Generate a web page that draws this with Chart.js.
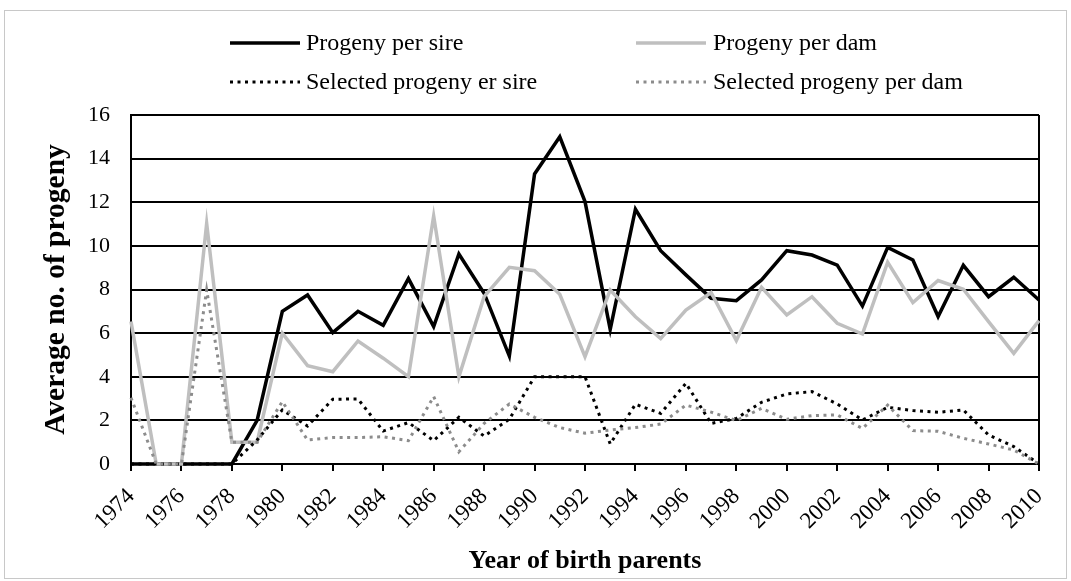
<!DOCTYPE html>
<html>
<head>
<meta charset="utf-8">
<script src="https://cdn.jsdelivr.net/npm/chart.js@4.4.1/dist/chart.umd.min.js"></script>
<style>
  html, body { margin: 0; padding: 0; background: #ffffff; }
  #wrap { width: 1071px; height: 581px; position: relative; }
</style>
</head>
<body>
<div id="wrap"><canvas id="c" width="1071" height="581"></canvas></div>
<script>
const years = [1974,1975,1976,1977,1978,1979,1980,1981,1982,1983,1984,1985,1986,1987,1988,1989,1990,1991,1992,1993,1994,1995,1996,1997,1998,1999,2000,2001,2002,2003,2004,2005,2006,2007,2008,2009,2010];
const progenyPerSire = [0,0,0,0,0,2.0,7.0,7.75,6.02,7.0,6.36,8.5,6.3,9.63,7.83,4.95,13.3,15.0,12.03,6.17,11.68,9.78,8.67,7.6,7.49,8.44,9.78,9.58,9.12,7.24,9.93,9.35,6.76,9.11,7.67,8.56,7.52];
const progenyPerDam = [6.53,0,0,11.03,1.0,1.0,6.0,4.51,4.23,5.64,4.85,4.0,11.37,4.0,7.67,9.02,8.86,7.78,4.92,7.98,6.75,5.75,7.06,7.86,5.66,8.1,6.83,7.67,6.45,5.96,9.25,7.4,8.41,8.01,6.53,5.07,6.57];
const selectedPerSire = [0,0,0,0,0,1.1,2.48,1.74,2.97,2.98,1.51,1.9,1.07,2.14,1.28,2.05,4.0,4.0,4.0,0.92,2.74,2.32,3.7,1.86,2.09,2.83,3.21,3.32,2.75,2.02,2.6,2.45,2.37,2.48,1.33,0.8,0];
const selectedPerDam = [3.04,0,0,7.98,1.0,1.0,2.86,1.1,1.21,1.21,1.25,1.07,3.09,0.56,1.86,2.75,2.14,1.67,1.41,1.56,1.67,1.83,2.7,2.38,1.99,2.55,2.05,2.22,2.25,1.63,2.7,1.53,1.5,1.18,0.92,0.64,0];
const seriesNames = ["Progeny per sire","Progeny per dam","Selected progeny er sire","Selected progeny per dam"];
const yTicks = [0,2,4,6,8,10,12,14,16];

const SERIF = "'Liberation Serif', 'Times New Roman', serif";

const frameAndLegend = {
  id: 'frameAndLegend',
  beforeDraw(chart) {
    const ctx = chart.ctx;
    ctx.save();
    ctx.fillStyle = '#ffffff';
    ctx.fillRect(0, 0, chart.width, chart.height);
    ctx.strokeStyle = '#c8c8c8';
    ctx.lineWidth = 1;
    ctx.strokeRect(4.5, 10.5, 1062, 568);
    ctx.restore();
  },
  beforeDatasetsDraw(chart) {
    const ctx = chart.ctx, a = chart.chartArea;
    ctx.save();
    ctx.strokeStyle = '#000000';
    ctx.lineWidth = 2;
    ctx.beginPath();
    ctx.moveTo(a.right, a.top);
    ctx.lineTo(a.right, a.bottom);
    ctx.stroke();
    ctx.restore();
  },
  afterDraw(chart) {
    const ctx = chart.ctx;
    const lineX = [230, 636], textX = [306, 713], rowY = [43, 82];
    ctx.save();
    chart.data.datasets.forEach((ds, i) => {
      const col = i % 2, row = Math.floor(i / 2);
      const y = rowY[row];
      ctx.strokeStyle = ds.borderColor;
      ctx.lineWidth = ds.borderWidth;
      ctx.setLineDash(ds.borderDash || []);
      ctx.beginPath();
      ctx.moveTo(lineX[col], y);
      ctx.lineTo(lineX[col] + 70, y);
      ctx.stroke();
      ctx.setLineDash([]);
      ctx.fillStyle = '#000000';
      ctx.font = '24px ' + SERIF;
      ctx.textBaseline = 'middle';
      ctx.textAlign = 'left';
      ctx.fillText(ds.label, textX[col], y + 1);
    });
    ctx.restore();
  }
};

new Chart(document.getElementById('c'), {
  type: 'line',
  data: {
    labels: years,
    datasets: [
      { label: seriesNames[0], data: progenyPerSire, borderColor: '#000000', borderWidth: 3.5, pointRadius: 0, tension: 0, clip: false, order: 3 },
      { label: seriesNames[1], data: progenyPerDam, borderColor: '#bfbfbf', borderWidth: 3.5, pointRadius: 0, tension: 0, clip: false, order: 2 },
      { label: seriesNames[2], data: selectedPerSire, borderColor: '#000000', borderWidth: 3, borderDash: [3, 4.5], pointRadius: 0, tension: 0, clip: false, order: 1 },
      { label: seriesNames[3], data: selectedPerDam, borderColor: '#8c8c8c', borderWidth: 3, borderDash: [3, 4.5], pointRadius: 0, tension: 0, clip: false, order: 0 }
    ]
  },
  options: {
    responsive: false,
    animation: false,
    devicePixelRatio: 1,
    layout: { padding: { left: 0, top: 115, right: 32, bottom: 0 } },
    plugins: { legend: { display: false }, tooltip: { enabled: false } },
    scales: {
      x: {
        type: 'category',
        offset: false,
        afterFit(scale) { scale.height = 117; },
        grid: { display: true, drawOnChartArea: false, drawTicks: true, tickLength: 7, color: '#000000', lineWidth: 2 },
        border: { display: true, color: '#000000', width: 2 },
        ticks: {
          autoSkip: false,
          maxRotation: 45,
          minRotation: 45,
          padding: 12,
          color: '#000000',
          font: { family: SERIF, size: 23 },
          callback(value, index) { const yr = years[index]; return (yr % 2 === 0) ? String(yr) : null; }
        },
        title: { display: true, text: 'Year of birth parents', color: '#000000', font: { family: SERIF, size: 26, weight: 'bold' }, padding: { top: 0, bottom: 4 } }
      },
      y: {
        min: 0,
        max: 16,
        afterFit(scale) { scale.width = 131; },
        afterBuildTicks(scale) { scale.ticks = yTicks.map(v => ({ value: v })); },
        grid: { display: true, drawTicks: false, color: '#000000', lineWidth: 2 },
        border: { display: true, color: '#000000', width: 2 },
        ticks: { padding: 21, color: '#000000', font: { family: SERIF, size: 22 } },
        title: { display: true, text: 'Average no. of progeny', color: '#000000', font: { family: SERIF, size: 29.5, weight: 'bold' }, padding: { top: 39, bottom: 0 } }
      }
    }
  },
  plugins: [frameAndLegend]
});
</script>
</body>
</html>
